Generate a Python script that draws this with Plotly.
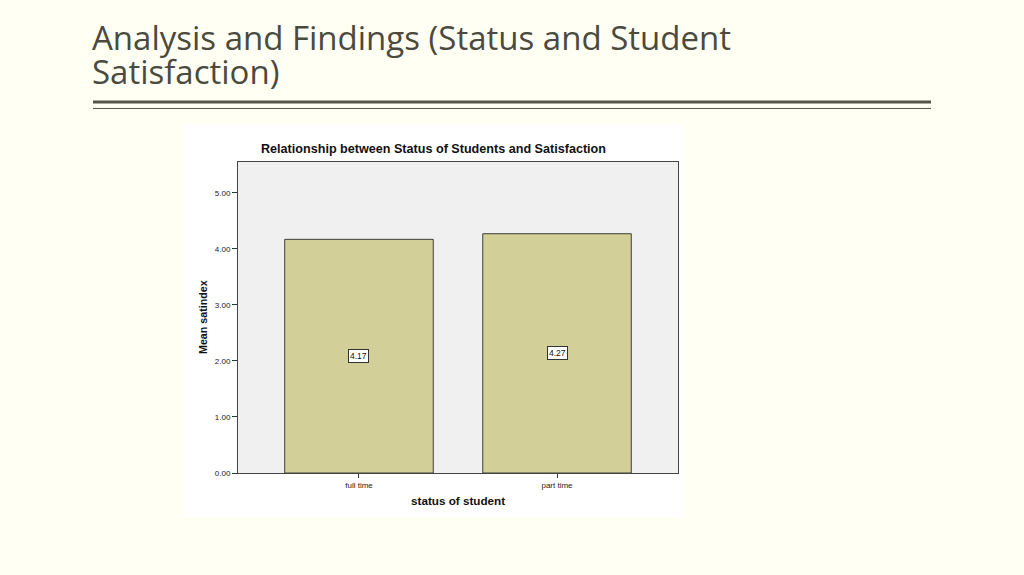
import plotly.graph_objects as go

# ---- data ----
categories = ["full time", "part time"]
mean_satindex = [4.17, 4.27]
y_tick_values = [0, 1, 2, 3, 4, 5]

slide_title_lines = ["Analysis and Findings (Status and Student", "Satisfaction)"]
chart_title = "Relationship between Status of Students and Satisfaction"
x_title = "status of student"
y_title = "Mean satindex"

# ---- layout geometry (pixels) ----
W, H = 1024, 575
PL, PR, PT, PB = 238, 678, 162, 473  # plot area edges
BG = "#FFFFF3"


def px(x):
    return (x - PL) / (PR - PL)


def py(y):
    return (PB - y) / (PB - PT)


fig = go.Figure()
fig.add_trace(go.Bar(
    x=categories,
    y=mean_satindex,
    width=0.75,
    marker=dict(color="#D3CF98", line=dict(color="#3E3E3A", width=1)),
    hoverinfo="skip",
))

annotations = []
# value labels at half bar height
for c, v in zip(categories, mean_satindex):
    annotations.append(dict(
        x=c, y=v / 2, xref="x", yref="y", text=f"{v:.2f}", showarrow=False,
        font=dict(family="Liberation Sans", size=8.5, color="#111111"),
        bgcolor="#FFFFFF", bordercolor="#333333", borderwidth=1, borderpad=1,
    ))

# chart title
annotations.append(dict(
    x=px(433), y=py(149), xref="paper", yref="paper", text=f"<b>{chart_title}</b>",
    showarrow=False, xanchor="center", yanchor="middle",
    font=dict(family="Liberation Sans", size=12.6, color="#111111"),
))
# axis titles
annotations.append(dict(
    x=px(458), y=py(500.5), xref="paper", yref="paper", text=f"<b>{x_title}</b>",
    showarrow=False, xanchor="center", yanchor="middle",
    font=dict(family="Liberation Sans", size=11.7, color="#111111"),
))
annotations.append(dict(
    x=px(203), y=py(317), xref="paper", yref="paper", text=f"<b>{y_title}</b>",
    showarrow=False, xanchor="center", yanchor="middle", textangle=-90,
    font=dict(family="Liberation Sans", size=10.7, color="#111111"),
))
# slide title lines
for i, line in enumerate(slide_title_lines):
    annotations.append(dict(
        x=px(90), y=py(37.5 + 34 * i), xref="paper", yref="paper", text=line,
        showarrow=False, xanchor="left", yanchor="middle",
        font=dict(family="Open Sans", size=33, color="#4A4A3F"),
    ))

shapes = [
    # white chart image background
    dict(type="rect", xref="paper", yref="paper", x0=px(184), x1=px(684), y0=py(517), y1=py(124),
         fillcolor="#FFFFFF", line=dict(width=0), layer="below"),
    # grey plot area
    dict(type="rect", xref="paper", yref="paper", x0=0, x1=1, y0=0, y1=1,
         fillcolor="#F0F0F0", line=dict(width=0), layer="below"),
    # title rules
    dict(type="line", xref="paper", yref="paper", x0=px(93), x1=px(931), y0=py(102), y1=py(102),
         line=dict(color="#545448", width=3)),
    dict(type="line", xref="paper", yref="paper", x0=px(93), x1=px(931), y0=py(108.5), y1=py(108.5),
         line=dict(color="#545448", width=1.2)),
]

fig.update_layout(
    width=W, height=H, autosize=False,
    margin=dict(l=PL, r=W - PR, t=PT, b=H - PB, pad=0),
    paper_bgcolor=BG,
    plot_bgcolor="#F0F0F0",
    showlegend=False,
    annotations=annotations,
    shapes=shapes,
)
fig.update_xaxes(
    range=[-0.611, 1.611], showgrid=False, zeroline=False,
    showline=True, linecolor="#444444", linewidth=1, mirror=True,
    ticks="outside", ticklen=4, tickcolor="#333333",
    tickfont=dict(family="Liberation Sans", size=8, color="#222222"),
)
fig.update_yaxes(
    range=[0, 5.55], tickvals=y_tick_values, tickformat=".2f",
    showgrid=False, zeroline=False,
    showline=True, linecolor="#444444", linewidth=1, mirror=True,
    ticks="outside", ticklen=5, tickcolor="#333333",
    tickfont=dict(family="Liberation Sans", size=8, color="#222222"),
)

fig.write_html("out.html", config={"displayModeBar": False},
               post_script="document.body.style.margin='0';")
